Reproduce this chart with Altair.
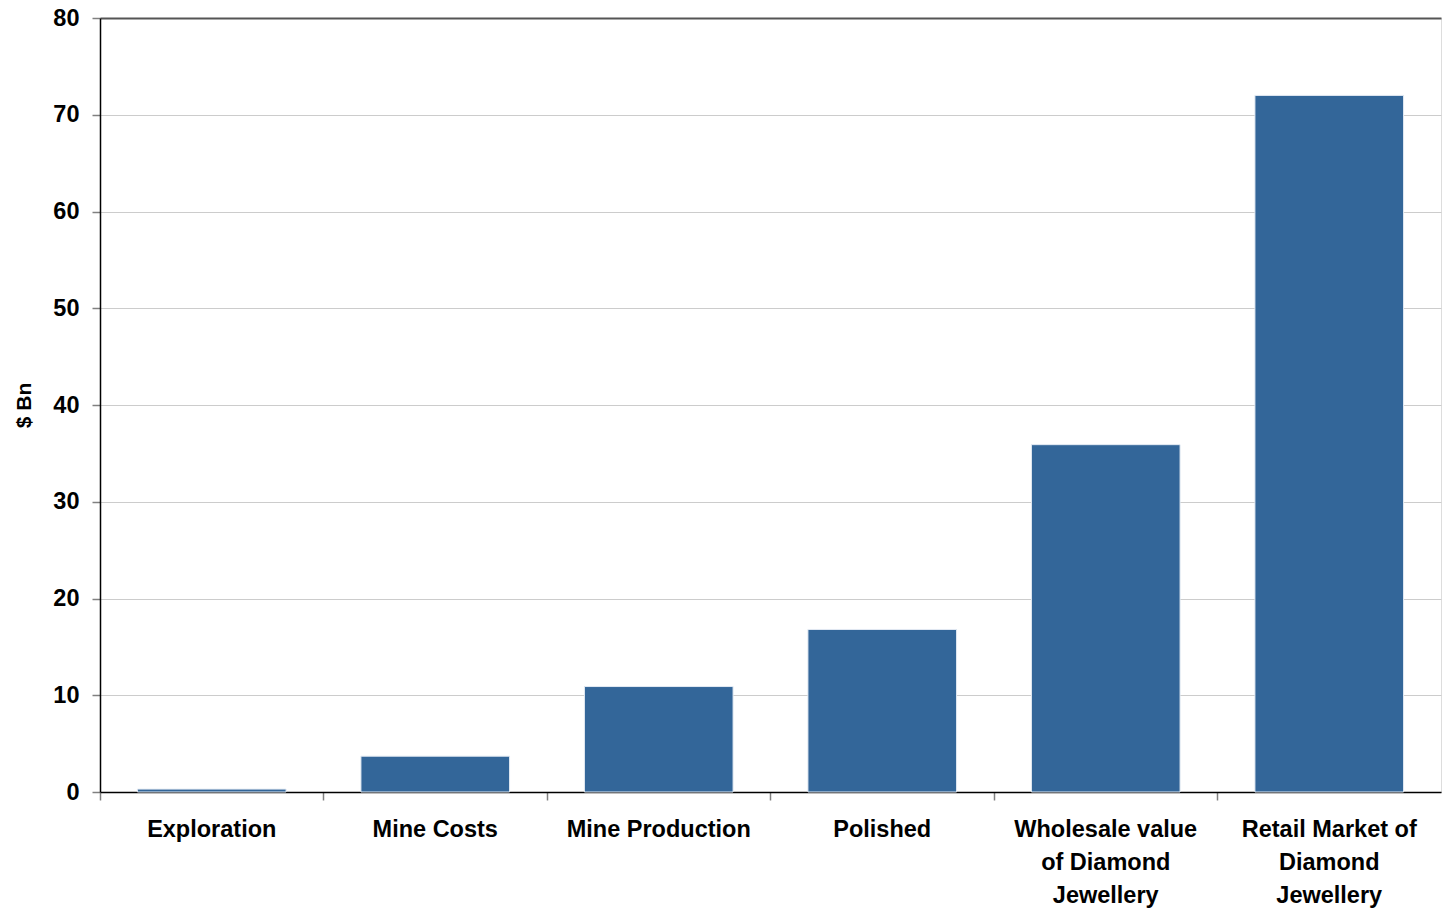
import altair as alt
import pandas as pd

# Value chain stages ("|" marks a line break in the axis label)
stages = [
    "Exploration",
    "Mine Costs",
    "Mine Production",
    "Polished",
    "Wholesale value|of Diamond|Jewellery",
    "Retail Market of|Diamond|Jewellery",
]
values_bn = [0.3, 3.7, 10.9, 16.8, 35.9, 72.0]
y_ticks = [0, 10, 20, 30, 40, 50, 60, 70, 80]

df = pd.DataFrame({"stage": stages, "value": values_bn})

FONT = "Liberation Sans"

bars = alt.Chart(df).mark_bar(
    color="#336699",
    stroke="#E3EAF3",
    strokeWidth=1,
    width=alt.RelativeBandSize(0.665),
).encode(
    x=alt.X(
        "stage:N",
        sort=stages,
        scale=alt.Scale(paddingInner=0, paddingOuter=0),
        axis=alt.Axis(
            title=None,
            labelAngle=0,
            labelExpr="split(datum.value, '|')",
            labelFont=FONT,
            labelFontSize=23.5,
            labelFontWeight="bold",
            labelColor="#000000",
            labelLineHeight=33,
            labelPadding=17,
            labelBaseline="top",
            labelLimit=400,
            bandPosition=0,
            tickSize=8,
            tickColor="#808080",
            tickWidth=1.5,
            domainColor="#000000",
            domainWidth=1.5,
            grid=False,
        ),
    ),
    y=alt.Y(
        "value:Q",
        scale=alt.Scale(domain=[0, 80], nice=False),
        axis=alt.Axis(
            title="$ Bn",
            values=y_ticks,
            titleFont=FONT,
            titleFontSize=21,
            titleFontWeight="bold",
            titleColor="#000000",
            titlePadding=18,
            labelFont=FONT,
            labelFontSize=23.5,
            labelFontWeight="bold",
            labelColor="#000000",
            labelPadding=13,
            tickSize=8,
            tickColor="#808080",
            tickWidth=1.5,
            domainColor="#000000",
            domainWidth=1.5,
            grid=True,
            gridColor={
                "condition": {"test": "datum.value === 80", "value": "#555555"},
                "value": "#CCCCCC",
            },
            gridWidth={
                "condition": {"test": "datum.value === 80", "value": 1.8},
                "value": 1,
            },
        ),
    ),
)

chart = bars.properties(
    width=1341,
    height=774,
    autosize=alt.AutoSizeParams(type="none"),
    padding={"left": 100, "top": 18, "right": 2, "bottom": 116},
).configure_view(stroke=None).configure(background="#FFFFFF")

chart.save("out.html", embed_options={"renderer": "svg", "actions": False})
